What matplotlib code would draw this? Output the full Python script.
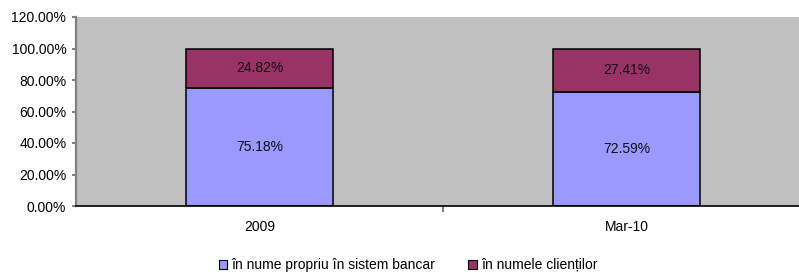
import numpy as np
import matplotlib as mpl
mpl.use('Agg')
import matplotlib.pyplot as plt
from matplotlib.patches import Rectangle

plt.rcParams['font.family'] = ['Liberation Sans', 'DejaVu Sans']

categories = ['2009', 'Mar-10']
own_name = [75.18, 72.59]      # în nume propriu în sistem bancar
clients = [24.82, 27.41]       # în numele clienților
series_labels = ['în nume propriu în sistem bancar', 'în numele clienților']
colors = ['#9999FF', '#993366']

fs = 10

fig = plt.figure(figsize=(7.99, 2.77), dpi=100)
ax = fig.add_axes([76/799, 71/277, 734/799, 189/277])
ax.set_facecolor('#C0C0C0')

x = np.arange(len(categories))
ax.bar(x, own_name, width=0.4, color=colors[0], edgecolor='black', linewidth=1.1)
ax.bar(x, clients, width=0.4, bottom=own_name, color=colors[1], edgecolor='black', linewidth=1.1)

for i in range(len(categories)):
    ax.text(x[i], own_name[i] / 2, '%.2f%%' % own_name[i], ha='center', va='center', fontsize=fs, color='#111111')
    ax.text(x[i], own_name[i] + clients[i] / 2, '%.2f%%' % clients[i], ha='center', va='center', fontsize=fs, color='#111111')

ax.set_xlim(-0.5, 1.5)
ax.set_ylim(0, 120)
ax.set_yticks(np.arange(0, 121, 20))
ax.set_yticklabels(['%.2f%%' % v for v in np.arange(0, 121, 20)], fontsize=fs)
ax.set_xticks(x)
ax.set_xticklabels(categories, fontsize=fs)
ax.set_xticks([0.5], minor=True)
ax.tick_params(axis='x', which='major', length=0, pad=10)
ax.tick_params(axis='x', which='minor', length=4, width=1.5, color='#808080')
ax.tick_params(axis='y', length=3, width=1.5, color='#808080', pad=4)

for s in ['top', 'right']:
    ax.spines[s].set_visible(False)
ax.spines['left'].set_color('#808080')
ax.spines['left'].set_linewidth(1.6)
ax.spines['bottom'].set_color('black')
ax.spines['bottom'].set_linewidth(1.2)

handles = [Rectangle((0, 0), 1, 1, facecolor=c, edgecolor='black', linewidth=0.8) for c in colors]
fig.legend(handles, series_labels, loc='center', bbox_to_anchor=(408/799, 1 - 265/277),
           ncol=2, frameon=False, fontsize=fs, handlelength=0.6, handleheight=0.6,
           handletextpad=0.3, columnspacing=2.4)

fig.savefig('out.png', dpi=100)
